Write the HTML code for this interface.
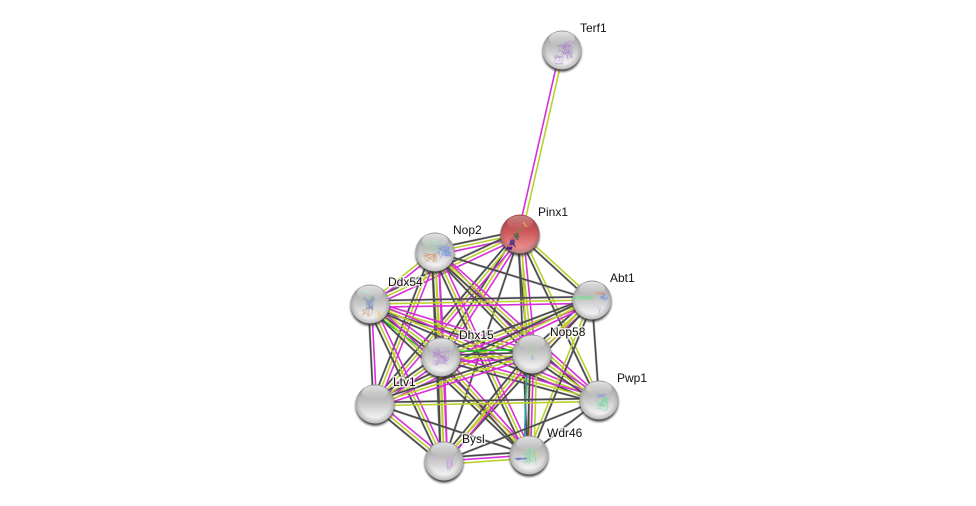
<!DOCTYPE html>
<html><head><meta charset="utf-8"><style>
html,body{margin:0;padding:0;background:#fff}
svg{display:block}
text{font-family:"Liberation Sans",Arial,sans-serif;font-size:12px;fill:#111;paint-order:stroke;stroke:rgba(255,255,255,.75);stroke-width:3px}
</style></head><body>
<svg id="s" xmlns="http://www.w3.org/2000/svg" width="976" height="506" viewBox="0 0 976 506">
<defs>
<linearGradient id="gb" x1="0" y1="0" x2="0" y2="1"><stop offset="0" stop-color="#9a9a9a"/><stop offset=".45" stop-color="#c4c4c4"/><stop offset=".85" stop-color="#f2f2f2"/><stop offset="1" stop-color="#fafafa"/></linearGradient>
<linearGradient id="rb" x1="0" y1="0" x2="0" y2="1"><stop offset="0" stop-color="#a33638"/><stop offset=".5" stop-color="#d06062"/><stop offset="1" stop-color="#f89ea0"/></linearGradient>
<radialGradient id="rim" cx=".5" cy=".45" r=".56"><stop offset=".7" stop-color="#555" stop-opacity="0"/><stop offset="1" stop-color="#555" stop-opacity=".42"/></radialGradient>
<linearGradient id="hl" x1="0" y1="0" x2="0" y2="1"><stop offset="0" stop-color="#fff" stop-opacity=".85"/><stop offset="1" stop-color="#fff" stop-opacity="0"/></linearGradient>
<filter id="bl" x="-30%" y="-30%" width="160%" height="160%"><feGaussianBlur stdDeviation="1.1"/></filter>
</defs>
<g id="edges"></g>
<g id="nodes"></g>
<text x="580" y="32">Terf1</text>
<text x="538" y="216">Pinx1</text>
<text x="453" y="234">Nop2</text>
<text x="388" y="286">Ddx54</text>
<text x="610" y="282">Abt1</text>
<text x="459" y="339">Dhx15</text>
<text x="550" y="336">Nop58</text>
<text x="393" y="386">Ltv1</text>
<text x="617" y="382">Pwp1</text>
<text x="462" y="443">Bysl</text>
<text x="547" y="437">Wdr46</text>
</svg>
<script>
var N={T:[562,50],P:[520,234],N:[435,252],D:[370,304],A:[592,300],H:[441,357],O:[532,354],L:[375,404],W:[599,400],B:[444,461],R:[529,455]};
var C={m:"#d82fd8",y:"#bcd02c",k:"#484848",g:"#22c422",b:"#2a98b8"};
var E="TP my,PN kym,PD kym,PA ky,PH kym,PO kym,PL kym,PW ky,PB k,PR ky,ND ym,NA k,NH kym,NO kym,NL kym,NW kym,NB kym,NR kym,DA kym,DH gkym,DO kym,DL km,DW kym,DB kym,DR kym,AH kym,AO kym,AL kym,AW k,AB yk,AR yk,HO gkym,HL kym,HW kym,HB kym,HR kym,OL kym,OW kym,OB kym,OR bkmy,LW ky,LB kym,LR k,WB k,WR k,BR kmy".split(",");
var h="",NS=document.getElementById("edges");
E.forEach(function(e){var p=e.split(" "),a=N[p[0][0]],b=N[p[0][1]],c=p[1];
 var dx=b[0]-a[0],dy=b[1]-a[1],l=Math.hypot(dx,dy),nx=-dy/l,ny=dx/l;
 if(nx<0||(nx==0&&ny<0)){nx=-nx;ny=-ny}
 var sp=p[0]=="TP"?4:3.3;
 for(var i=0;i<c.length;i++){var o=(i-(c.length-1)/2)*sp;
  var xy='x1="'+(a[0]+nx*o).toFixed(1)+'" y1="'+(a[1]+ny*o).toFixed(1)+'" x2="'+(b[0]+nx*o).toFixed(1)+'" y2="'+(b[1]+ny*o).toFixed(1)+'"';
  if(c[i]=="k")h+='<line '+xy+' stroke="#888" stroke-width="2.8" opacity=".3"/>';
  h+='<line '+xy+' stroke="'+C[c[i]]+'" stroke-width="1.6"/>';}
});
NS.innerHTML=h;
var seed=7;function r(){seed=(seed*16807)%2147483647;return seed/2147483647}
function sq(x,y,w,hh,col,n,sw,op){var d="M"+x+" "+y;for(var i=0;i<n;i++){d+="L"+(x+(r()-.5)*w).toFixed(1)+" "+(y+(r()-.5)*hh).toFixed(1)}
 return '<path d="'+d+'" fill="none" stroke="'+col+'" stroke-width="'+(sw||.4)+'" opacity="'+(op||.65)+'"/>'}
var Q={
T:[[565,50,18,22,"#a67fc8",40,.5],[559,60,10,10,"#a67fc8",14,.5],[570,43,12,7,"#b28ad0",10,.6]],
P:[[512,243,5,6,"#5a3a80",12,1.4,1],[516,236,5,7,"#5a6a50",12,1.4,1],[519,230,3,5,"#7a8a40",8,1.4,1],[509,248,6,3,"#5a1a80",8,1.4,1],[526,225,5,4,"#d9a030",8,1,.9]],
N:[[430,245,20,14,"#9fd09f",30],[444,252,16,14,"#6a8fe0",34,.5],[430,258,14,10,"#d88a50",24,.5],[440,243,16,6,"#8fdcc8",14]],
D:[[369,303,12,16,"#6d7fbf",30,.5],[366,292,16,6,"#8fe0d0",16],[367,313,12,10,"#d89060",16],[378,315,9,10,"#e0d070",18],[372,298,10,8,"#80c080",12]],
A:[[583,298,22,4,"#70e090",22,.6],[600,293,14,3,"#e08060",10,.6],[604,298,8,7,"#6a8fe0",20,.5],[599,309,5,10,"#a0c0e8",8]],
H:[[441,356,17,20,"#b088d0",60,.45]],
O:[[531,352,6,16,"#a0d8a0",10,.5],[533,360,4,8,"#80a0e0",6,.5]],
W:[[603,404,13,14,"#70d8a0",36,.5],[601,396,10,5,"#6a8fe0",10,.5],[590,389,7,5,"#e8c8a0",8]],
B:[[450,463,8,15,"#c8a0d8",30,.45],[434,457,3,7,"#d0b0e0",8,.45]],
R:[[530,456,14,18,"#80d8a0",50,.45],[520,459,14,3,"#4050c0",6,.9],[522,449,5,4,"#e8a070",6],[536,453,6,8,"#e0d070",10]]
};
var g="";
for(var k in N){var x=N[k][0],y=N[k][1],R=19.5;
 g+='<circle cx="'+x+'" cy="'+(y+2.2)+'" r="'+R+'" fill="#333" opacity=".9" filter="url(#bl)"/>';
 g+='<circle cx="'+x+'" cy="'+y+'" r="'+R+'" fill="url(#'+(k=="P"?"rb":"gb")+')"/>';
 g+='<circle cx="'+x+'" cy="'+y+'" r="'+R+'" fill="url(#rim)"/>';
 if(Q[k])Q[k].forEach(function(a){g+=sq.apply(null,a)});
 g+='<ellipse cx="'+x+'" cy="'+(y-11.5)+'" rx="13" ry="7" fill="url(#hl)" opacity="'+(k=="P"?.45:.85)+'"/>';
}
document.getElementById("nodes").innerHTML=g;
</script>
</body></html>
